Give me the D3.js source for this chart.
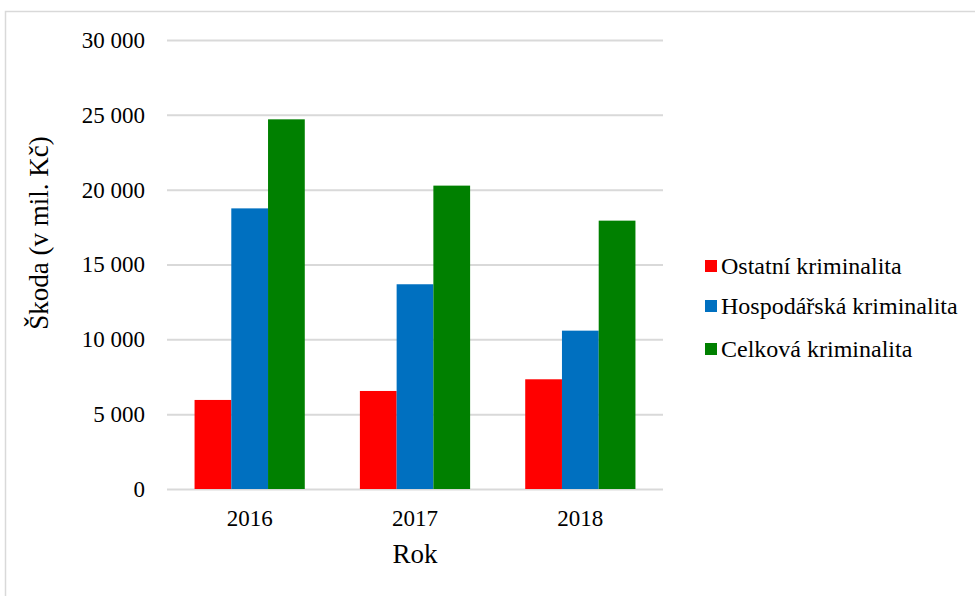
<!DOCTYPE html>
<html><head><meta charset="utf-8">
<script src="https://cdn.jsdelivr.net/npm/d3@7"></script>
<style>body{margin:0;background:#fff}svg{display:block}</style>
</head><body>
<script>
const categories = ["2016", "2017", "2018"];
const seriesNames = ["Ostatní kriminalita", "Hospodářská kriminalita", "Celková kriminalita"];
const ostatni = [5950, 6550, 7330];
const hospodarska = [18750, 13680, 10580];
const celkova = [24700, 20270, 17930];
const colors = ["#ff0000", "#0070c0", "#008000"];
const yTicks = [0, 5000, 10000, 15000, 20000, 25000, 30000];

(function () {
const series = [ostatni, hospodarska, celkova];
const W = 975, H = 596;
const svg = d3.select("body").append("svg").attr("width", W).attr("height", H);
svg.append("rect").attr("x", 5.5).attr("y", 11.5).attr("width", 1000).attr("height", 1000)
  .attr("fill", "#fff").attr("stroke", "#d9d9d9").attr("stroke-width", 1.5);

const pl = 167, pr = 663, pt = 40, pb = 489;
const x = d3.scaleBand().domain(categories).range([pl, pr]).paddingInner(0).paddingOuter(0);
const y = d3.scaleLinear().domain([0, 30000]).range([pb, pt]);
const xs = d3.scaleBand().domain(d3.range(3)).range([0, x.bandwidth() * 2 / 3]);
const font = "'Liberation Serif','Times New Roman',serif";

const fmt = v => d3.format(",")(v).replace(/,/g, "\u00a0");
const yAxis = d3.axisLeft(y).tickValues(yTicks).tickSize(-(pr - pl)).tickFormat(fmt).tickPadding(22);
const gy = svg.append("g").attr("transform", `translate(${pl},0)`).call(yAxis);
gy.select(".domain").remove();
gy.selectAll(".tick line").attr("stroke", "#d9d9d9").attr("stroke-width", 2);
gy.selectAll(".tick text").attr("font-family", font).attr("font-size", 23).attr("fill", "#000");

const groups = svg.append("g").selectAll("g").data(categories).join("g")
  .attr("transform", c => `translate(${x(c) + x.bandwidth() / 6},0)`);
groups.selectAll("rect").data((c, i) => series.map((s, k) => ({k, v: s[i]}))).join("rect")
  .attr("x", d => xs(d.k)).attr("width", xs.bandwidth())
  .attr("y", d => y(d.v)).attr("height", d => y(0) - y(d.v))
  .attr("fill", d => colors[d.k]);

const xAxis = d3.axisBottom(x).tickSize(0).tickPadding(21);
const gx = svg.append("g").attr("transform", `translate(0,${pb})`).call(xAxis);
gx.select(".domain").remove();
gx.selectAll(".tick text").attr("font-family", font).attr("font-size", 23).attr("fill", "#000");

svg.append("text").attr("x", (pl + pr) / 2).attr("y", 563).attr("text-anchor", "middle")
  .attr("font-family", font).attr("font-size", 27).text("Rok");
svg.append("text").attr("transform", `translate(48,233) rotate(-90)`)
  .attr("text-anchor", "middle").attr("font-family", font).attr("font-size", 27).text("Škoda (v mil. Kč)");

const legY = [266, 306, 349];
const lg = svg.append("g").selectAll("g").data(seriesNames).join("g")
  .attr("transform", (d, i) => `translate(705,${legY[i]})`);
lg.append("rect").attr("x", 0).attr("y", -6).attr("width", 12).attr("height", 12).attr("fill", (d, i) => colors[i]);
lg.append("text").attr("x", 16).attr("y", 8).attr("font-family", font).attr("font-size", 24).text(d => d);
})();
</script>
</body></html>
